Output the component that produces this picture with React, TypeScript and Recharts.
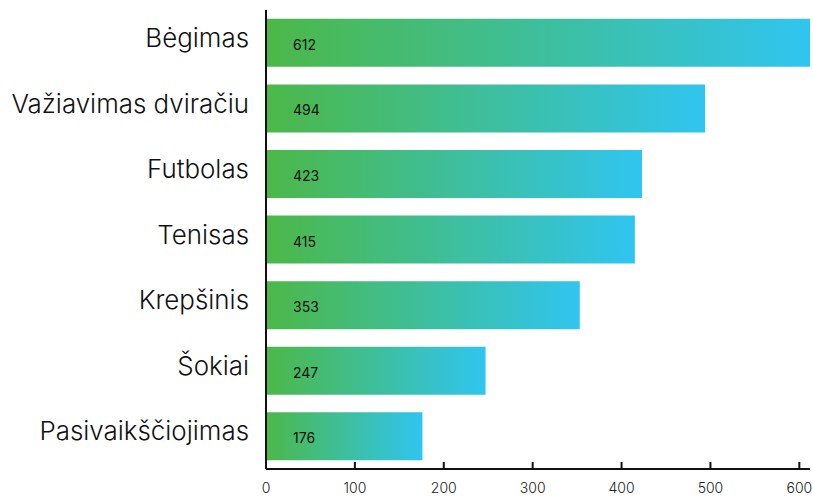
import React from 'react';
import { BarChart, Bar, XAxis, YAxis, LabelList } from 'recharts';

const sports = ['Bėgimas', 'Važiavimas dviračiu', 'Futbolas', 'Tenisas', 'Krepšinis', 'Šokiai', 'Pasivaikščiojimas'];
const counts = [612, 494, 423, 415, 353, 247, 176];
const xTicks = [0, 100, 200, 300, 400, 500, 600];

const data = sports.map((name, i) => ({ name, value: counts[i] }));

const App: React.FC = () => {
    const font = 'Inter, "Noto Sans", sans-serif';

    return (
        <div style={{ position: 'absolute', left: 0, top: 0, width: 813, height: 496, background: '#fff' }}>
            <BarChart
                width={813}
                height={496}
                data={data}
                layout="vertical"
                margin={{ top: 10, right: 3, left: 0, bottom: 0 }}
                barCategoryGap="13.5%"
            >
                <defs>
                    <linearGradient id="barGrad" x1="0" y1="0" x2="1" y2="0">
                        <stop offset="0%" stopColor="#4cb848" />
                        <stop offset="100%" stopColor="#30c5f0" />
                    </linearGradient>
                </defs>
                <XAxis
                    type="number"
                    domain={[0, 'dataMax']}
                    ticks={xTicks}
                    height={27}
                    axisLine={{ stroke: '#111', strokeWidth: 2 }}
                    tickLine={{ stroke: '#111', strokeWidth: 2 }}
                    tickSize={-7}
                    tickMargin={21}
                    tick={{ fill: '#222', fontSize: 14, fontFamily: font, fontWeight: 300 }}
                />
                <YAxis
                    type="category"
                    dataKey="name"
                    width={266}
                    axisLine={{ stroke: '#111', strokeWidth: 2 }}
                    tickLine={false}
                    tickSize={0}
                    tickMargin={17}
                    tick={{ fill: '#111', fontSize: 25.9, fontFamily: font, fontWeight: 300, dy: -5 }}
                />
                <Bar dataKey="value" fill="url(#barGrad)" isAnimationActive={false}>
                    <LabelList
                        dataKey="value"
                        position="insideLeft"
                        offset={27}
                        dy={2}
                        style={{ fill: '#111', fontSize: 14, fontFamily: font }}
                    />
                </Bar>
            </BarChart>
        </div>
    );
};

export default App;
